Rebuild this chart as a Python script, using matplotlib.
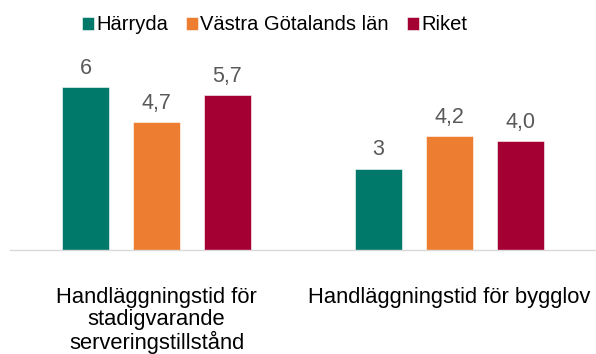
import matplotlib
matplotlib.use("Agg")
import matplotlib.pyplot as plt
import numpy as np

plt.rcParams['font.family'] = ['Liberation Sans', 'DejaVu Sans']

categories = ["Handläggningstid för\nstadigvarande\nserveringstillstånd",
              "Handläggningstid för bygglov"]
series_names = ["Härryda", "Västra Götalands län", "Riket"]
harryda = [6, 3]
vastra_gotaland = [4.7, 4.2]
riket = [5.7, 4.0]
value_labels = [["6", "3"], ["4,7", "4,2"], ["5,7", "4,0"]]
colors = ["#00796B", "#ED7D31", "#A50034"]

series = [harryda, vastra_gotaland, riket]

fig = plt.figure(figsize=(5.96, 3.54), dpi=100)
ax = fig.add_axes([0.0168, 0.2938, 0.9832, 0.5367])

x = np.arange(len(categories))
width = 0.161
step = 0.242
for i, (vals, name, col) in enumerate(zip(series, series_names, colors)):
    pos = x + (i - 1) * step
    bars = ax.bar(pos, vals, width=width, color=col, label=name,
                  edgecolor="white", linewidth=0.4)
    for b, v, lab in zip(bars, vals, value_labels[i]):
        ax.annotate(lab, (b.get_x() + b.get_width() / 2, v),
                    xytext=(0, 6), textcoords="offset points",
                    ha="center", va="bottom", fontsize=15.5, color="#595959")

ax.set_xlim(-0.5, 1.5)
ax.set_ylim(0, 7)
ax.set_yticks([])
ax.set_xticks(x)
ax.set_xticklabels(categories, fontsize=15.8, color="#000000", linespacing=1.06)
ax.tick_params(axis="x", length=0, pad=26.5)
for s in ["top", "right", "left"]:
    ax.spines[s].set_visible(False)
ax.spines["bottom"].set_color("#D9D9D9")
ax.spines["bottom"].set_linewidth(1.0)

handles, labels = ax.get_legend_handles_labels()
fig.legend(handles, labels, loc="center", bbox_to_anchor=(0.461, 0.93),
           ncol=3, frameon=False, fontsize=14.5, handlelength=0.6,
           handleheight=0.6, handletextpad=0.1, columnspacing=0.9)

fig.savefig("out.png", dpi=100)
